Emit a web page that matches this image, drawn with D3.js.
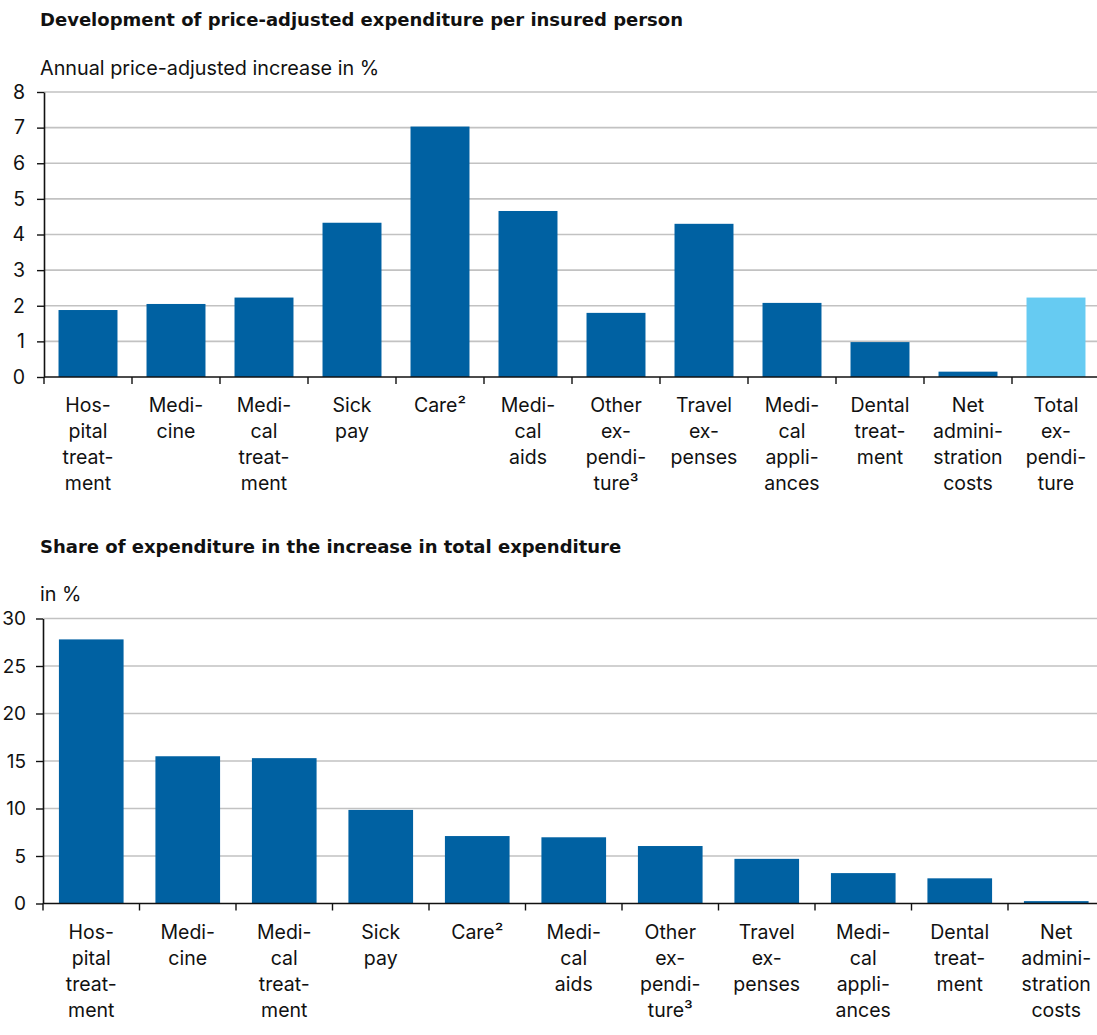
<!DOCTYPE html>
<html>
<head>
<meta charset="utf-8">
<script src="https://cdn.jsdelivr.net/npm/d3@7"></script>
<style>
  body { margin: 0; background: #fff; }
  svg { display: block; font-family: Inter, "Liberation Sans", Arial, sans-serif; }
</style>
</head>
<body>
<svg id="chart" width="1097" height="1035"></svg>
<script>
// Category labels, with "|" marking the hyphenated line breaks
const topCategories = [
  "Hos-|pital|treat-|ment", "Medi-|cine", "Medi-|cal|treat-|ment", "Sick|pay", "Care²",
  "Medi-|cal|aids", "Other|ex-|pendi-|ture³", "Travel|ex-|penses", "Medi-|cal|appli-|ances",
  "Dental|treat-|ment", "Net|admini-|stration|costs", "Total|ex-|pendi-|ture"
];
// Annual price-adjusted increase in %
const topValues = [1.88, 2.05, 2.23, 4.33, 7.03, 4.66, 1.80, 4.30, 2.08, 0.98, 0.15, 2.23];
const topTicks = [0, 1, 2, 3, 4, 5, 6, 7, 8];

const bottomCategories = topCategories.slice(0, 11);
// Share in the increase in total expenditure, in %
const bottomValues = [27.8, 15.5, 15.3, 9.85, 7.1, 6.97, 6.05, 4.7, 3.2, 2.65, 0.25];
const bottomTicks = [0, 5, 10, 15, 20, 25, 30];

const DARK = "#0061a2";
const LIGHT = "#66cbf2";
const GRID = "#c2c2c2";
const FONT = "Inter, Liberation Sans, Arial, sans-serif";
const TITLE_FONT = "DejaVu Sans, Liberation Sans, Arial, sans-serif";

const svg = d3.select("#chart");

function panel(opts) {
  const g = svg.append("g");
  g.append("text").attr("x", 40).attr("y", opts.titleY)
    .attr("font-family", TITLE_FONT)
    .attr("font-size", 18).attr("font-weight", "bold").attr("fill", "#111")
    .text(opts.title);
  g.append("text").attr("x", 40).attr("y", opts.subY)
    .attr("font-size", 19.8).attr("fill", "#111")
    .text(opts.sub);

  const x = d3.scaleBand().domain(opts.cats).range([opts.x0, opts.x1]).paddingInner(0.33).paddingOuter(0.165);
  const y = d3.scaleLinear().domain([0, opts.max]).range([opts.y0, opts.yTop]);

  // horizontal grid
  g.append("g").selectAll("line").data(opts.ticks.filter(t => t > 0)).join("line")
    .attr("x1", opts.x0).attr("x2", 1097)
    .attr("y1", d => y(d)).attr("y2", d => y(d))
    .attr("stroke", GRID).attr("stroke-width", 1.6);

  // bars
  g.append("g").selectAll("rect").data(opts.vals).join("rect")
    .attr("x", (d, i) => x(opts.cats[i]))
    .attr("width", x.bandwidth())
    .attr("y", d => y(d))
    .attr("height", d => y(0) - y(d))
    .attr("fill", (d, i) => opts.highlight === i ? LIGHT : DARK);

  // y axis
  const ya = g.append("g").attr("transform", `translate(${opts.x0},0)`)
    .call(d3.axisLeft(y).tickValues(opts.ticks).tickSize(7).tickSizeOuter(0).tickPadding(opts.tickPad));
  ya.select(".domain").attr("stroke", "#111").attr("stroke-width", 1.6);
  ya.selectAll(".tick line").attr("stroke", "#111").attr("stroke-width", 1.4);
  ya.selectAll(".tick text").attr("font-size", opts.tickFont).attr("fill", "#111")
    .attr("font-family", FONT);

  // x axis line with ticks at category boundaries
  const step = x.step();
  g.append("line").attr("x1", opts.x0).attr("x2", 1097)
    .attr("y1", y(0)).attr("y2", y(0)).attr("stroke", "#111").attr("stroke-width", 1.6);
  g.append("g").selectAll("line").data(d3.range(opts.cats.length + 1)).join("line")
    .attr("x1", i => opts.x0 + i * step).attr("x2", i => opts.x0 + i * step)
    .attr("y1", y(0)).attr("y2", y(0) + 7)
    .attr("stroke", "#111").attr("stroke-width", 1.4);

  // category labels
  const lab = g.append("g").selectAll("text").data(opts.cats).join("text")
    .attr("x", d => x(d) + x.bandwidth() / 2)
    .attr("y", y(0) + opts.labelOffset)
    .attr("text-anchor", "middle").attr("font-size", 19.5).attr("fill", "#111");
  lab.each(function (d) {
    const t = d3.select(this);
    d.split("|").forEach((s, k) => {
      t.append("tspan").attr("x", t.attr("x")).attr("dy", k === 0 ? 0 : 26).text(s);
    });
  });
}

panel({
  title: "Development of price-adjusted expenditure per insured person",
  titleY: 26, sub: "Annual price-adjusted increase in %", subY: 75,
  cats: topCategories, vals: topValues, ticks: topTicks, max: 8,
  x0: 44, x1: 1100, y0: 377, yTop: 92, labelOffset: 35, highlight: 11,
  tickPad: 12, tickFont: 19.5
});

panel({
  title: "Share of expenditure in the increase in total expenditure",
  titleY: 553, sub: "in %", subY: 601,
  cats: bottomCategories, vals: bottomValues, ticks: bottomTicks, max: 30,
  x0: 43, x1: 1104.5, y0: 903.5, yTop: 618.5, labelOffset: 35, highlight: -1,
  tickPad: 10, tickFont: 19
});
</script>
</body>
</html>
